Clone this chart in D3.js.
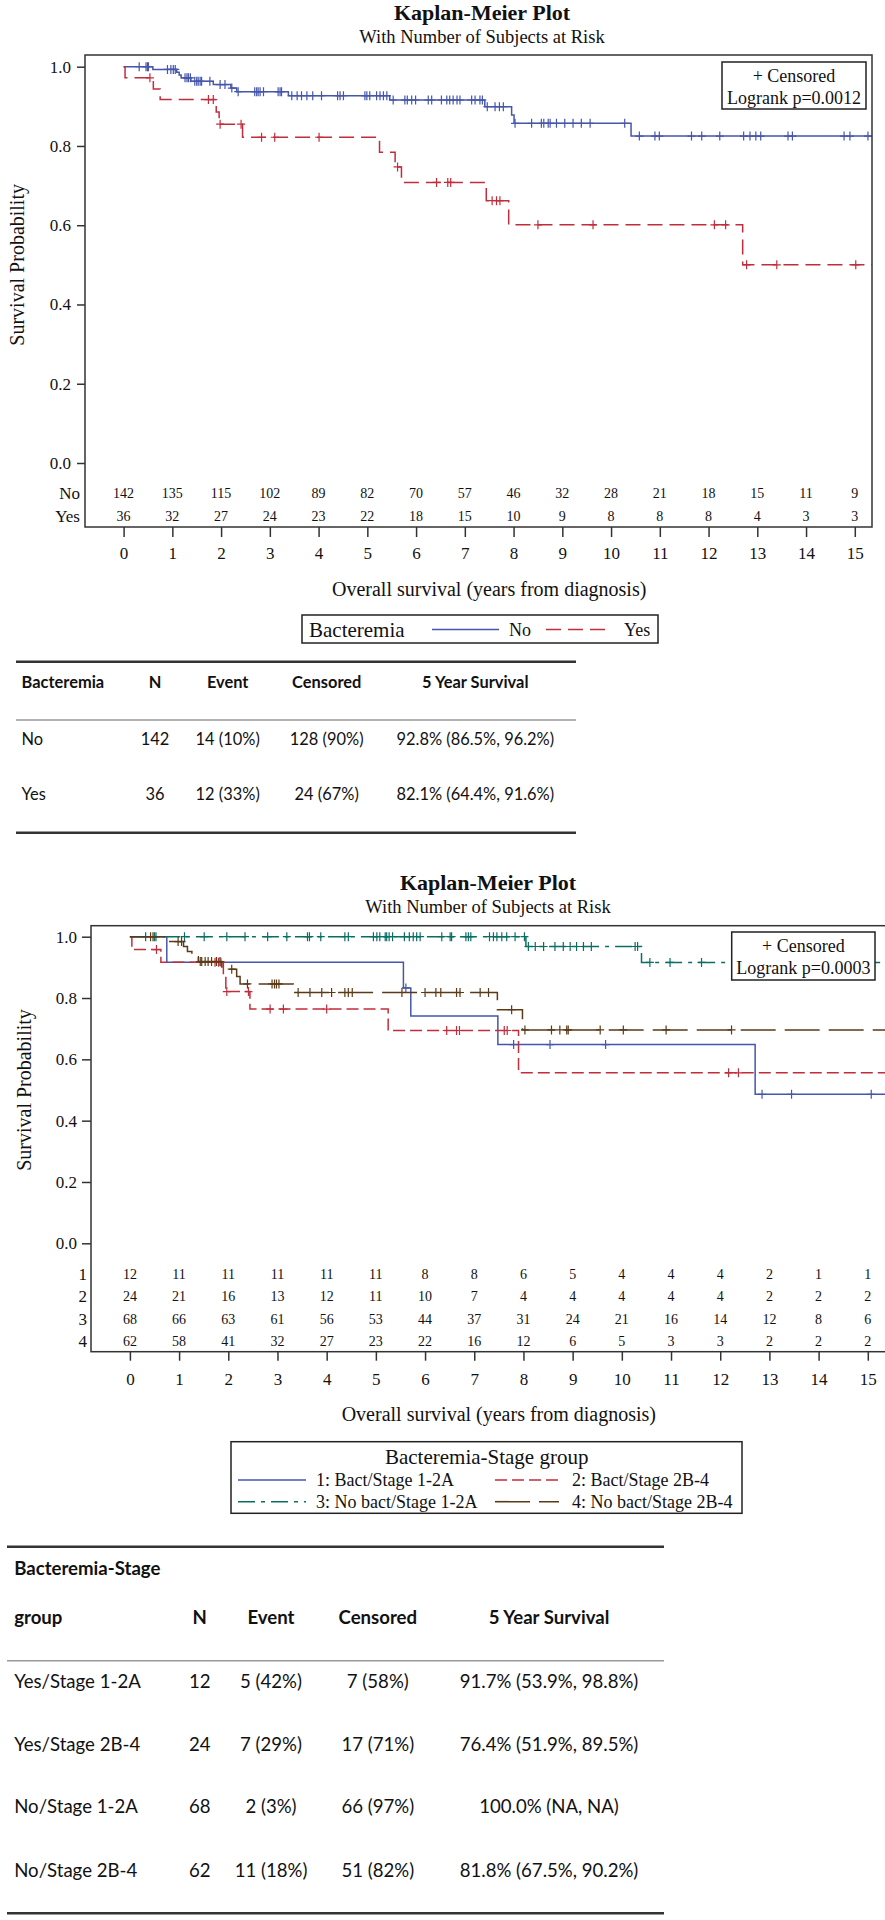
<!DOCTYPE html>
<html><head><meta charset="utf-8">
<script src="https://cdn.jsdelivr.net/npm/d3@7"></script>
<style>body{margin:0;background:#fff}svg{display:block}</style>
</head><body>
<svg id="c" width="885" height="1920"></svg>
<script>
// ---------------- DATA ----------------
const yearTicks = [0,1,2,3,4,5,6,7,8,9,10,11,12,13,14,15];
const survTicks = [0,0.2,0.4,0.6,0.8,1.0];
const followUpEnd = 15.4;

// Plot 1: Bacteremia No / Yes
const p1AtRiskNo  = [142,135,115,102,89,82,70,57,46,32,28,21,18,15,11,9];
const p1AtRiskYes = [36,32,27,24,23,22,18,15,10,9,8,8,8,4,3,3];
const p1NoEvents = [[0.60,0.993],[1.09,0.986],[1.14,0.979],[1.18,0.972],[1.38,0.963],[1.84,0.955],[2.20,0.946],[2.32,0.937],[3.38,0.927],[5.46,0.916],[7.41,0.899],[7.96,0.878],[8.01,0.857],[10.41,0.825]];
const p1NoCensored = [0.32,0.46,0.49,0.51,0.90,0.97,1.02,1.06,1.26,1.30,1.33,1.37,1.46,1.50,1.53,1.57,1.60,1.77,1.98,2.08,2.22,2.35,2.69,2.73,2.76,2.80,2.87,3.17,3.21,3.24,3.45,3.56,3.65,3.76,3.88,4.06,4.39,4.44,4.51,4.95,4.99,5.05,5.19,5.26,5.33,5.40,5.53,5.77,5.82,5.91,5.99,6.25,6.32,6.52,6.63,6.69,6.76,6.84,6.90,7.14,7.21,7.31,7.36,7.46,7.62,7.71,7.79,8.03,8.37,8.57,8.62,8.71,8.75,8.88,9.05,9.22,9.39,9.57,10.28,10.58,10.90,10.99,11.65,11.86,12.23,12.72,12.85,12.97,13.07,13.63,13.72,14.78,14.90,15.27];
const p1YesEvents = [[0.03,0.972],[0.61,0.944],[0.75,0.917],[1.90,0.886],[1.96,0.855],[2.44,0.822],[5.25,0.784],[5.57,0.747],[5.70,0.708],[7.44,0.662],[7.90,0.601],[12.70,0.500]];
const p1YesCensored = [0.54,1.74,1.84,1.98,2.41,2.83,3.10,4.01,5.62,6.42,6.65,6.71,7.56,7.65,7.72,8.50,9.63,12.12,12.35,12.78,13.40,15.02];

// Plot 2: Bacteremia-Stage groups
const p2AtRisk1 = [12,11,11,11,11,11,8,8,6,5,4,4,4,2,1,1];
const p2AtRisk2 = [24,21,16,13,12,11,10,7,4,4,4,4,4,2,2,2];
const p2AtRisk3 = [68,66,63,61,56,53,44,37,31,24,21,16,14,12,8,6];
const p2AtRisk4 = [62,58,41,32,27,23,22,16,12,6,5,3,3,2,2,2];
const p2G1Events = [[0.75,0.917],[5.56,0.833],[5.71,0.741],[7.48,0.648],[12.71,0.486]];
const p2G1Censored = [5.61,7.80,8.54,9.67,12.85,13.45,15.07];
const p2G2Events = [[0.04,0.958],[0.63,0.917],[1.90,0.867],[1.95,0.821],[2.44,0.764],[5.25,0.694],[7.90,0.556]];
const p2G2Censored = [0.54,1.73,1.80,1.85,1.97,2.41,2.85,3.12,4.00,6.44,6.64,6.70,7.61,7.67,12.17,12.37];
const p2G3Events = [[8.05,0.968],[10.40,0.916]];
const p2G3Censored = [0.32,0.50,0.53,1.11,1.51,1.97,2.34,2.80,3.19,3.61,3.65,3.88,4.37,4.44,4.95,5.02,5.08,5.19,5.22,5.27,5.34,5.58,5.68,5.76,5.83,5.90,6.34,6.51,6.54,6.83,6.88,6.93,7.31,7.39,7.46,7.56,7.66,7.83,8.02,8.10,8.24,8.41,8.64,8.81,8.95,9.08,9.22,9.38,10.27,10.32,10.57,10.98,11.62,12.3];
const p2G4Events = [[0.78,0.984],[1.09,0.968],[1.17,0.952],[1.26,0.935],[1.39,0.919],[1.87,0.894],[2.17,0.870],[2.24,0.846],[3.32,0.818],[7.47,0.762],[7.98,0.696]];
const p2G4Censored = [0.42,0.47,0.98,1.05,1.43,1.46,1.53,1.59,1.66,1.76,1.83,2.07,2.39,2.89,2.94,2.98,3.03,3.42,3.66,3.90,4.10,4.37,4.44,4.52,5.53,6.00,6.22,6.32,6.64,6.71,7.12,7.29,7.76,8.03,8.57,8.74,8.88,8.91,9.56,10.03,10.90,12.23];

// Tables
const tbl1Header = ["Bacteremia","N","Event","Censored","5 Year Survival"];
const tbl1Rows = [
  ["No","142","14 (10%)","128 (90%)","92.8% (86.5%, 96.2%)"],
  ["Yes","36","12 (33%)","24 (67%)","82.1% (64.4%, 91.6%)"]
];
const tbl2HeaderTop = "Bacteremia-Stage";
const tbl2Header = ["group","N","Event","Censored","5 Year Survival"];
const tbl2Rows = [
  ["Yes/Stage 1-2A","12","5 (42%)","7 (58%)","91.7% (53.9%, 98.8%)"],
  ["Yes/Stage 2B-4","24","7 (29%)","17 (71%)","76.4% (51.9%, 89.5%)"],
  ["No/Stage 1-2A","68","2 (3%)","66 (97%)","100.0% (NA, NA)"],
  ["No/Stage 2B-4","62","11 (18%)","51 (82%)","81.8% (67.5%, 90.2%)"]
];

// ---------------- STYLE ----------------
const SERIF = "'Liberation Serif','Times New Roman',Times,serif";
const SANS = "Lato,'Open Sans',sans-serif";
const C_BLUE = "#4556ac", C_RED = "#c22d3c", C_TEAL = "#0a6e63", C_BROWN = "#5a3a17";
const INK = "#111";
const svg = d3.select("#c");

function survAt(events,t){let s=1;for(const e of events){if(e[0]<=t)s=e[1];}return s;}
function txt(g,x,y,s,fs,opt={}){
  return g.append("text").attr("x",x).attr("y",y).attr("font-family",opt.ff||SERIF)
    .attr("font-size",fs).attr("font-weight",opt.fw||"normal").attr("fill",INK)
    .attr("text-anchor",opt.anchor||"start").text(s);
}

function drawKM(o){
  const g = svg.append("g");
  const x = d3.scaleLinear().domain([0,15]).range([o.x0,o.x15]);
  const y = d3.scaleLinear().domain([0,1]).range([o.y0,o.y1]);
  txt(g,o.titleX,o.titleY,"Kaplan-Meier Plot",22,{fw:"bold",anchor:"middle"});
  txt(g,o.titleX,o.subY,"With Number of Subjects at Risk",18.5,{anchor:"middle"});

  const cid = "clip"+o.id;
  svg.append("clipPath").attr("id",cid).append("rect")
    .attr("x",o.fl).attr("y",o.ft).attr("width",o.fr-o.fl).attr("height",o.fb-o.ft);
  const plot = g.append("g").attr("clip-path",`url(#${cid})`);
  const line = d3.line().x(d=>x(d[0])).y(d=>y(d[1])).curve(d3.curveStepAfter);
  o.groups.forEach(gr=>{
    const pts = [[0,1],...gr.events,[followUpEnd,gr.events[gr.events.length-1][1]]];
    plot.append("path").attr("d",line(pts)).attr("fill","none")
      .attr("stroke",gr.color).attr("stroke-width",1.5)
      .attr("stroke-dasharray",gr.dash||null);
    plot.append("g").selectAll("path").data(gr.censored).join("path")
      .attr("d",t=>{const cx=x(t),cy=y(survAt(gr.events,t));
        return `M${cx-4},${cy}H${cx+4}M${cx},${cy-4.5}V${cy+4.5}`;})
      .attr("stroke",gr.color).attr("stroke-width",1.2).attr("fill","none");
  });

  // inset legend
  g.append("rect").attr("x",o.lg[0]).attr("y",o.lg[1]).attr("width",o.lg[2]-o.lg[0]).attr("height",o.lg[3]-o.lg[1])
    .attr("fill","#fff").attr("stroke","#222").attr("stroke-width",1.5);
  const lcx=(o.lg[0]+o.lg[2])/2;
  txt(g,lcx,o.lg[1]+20,"+ Censored",18,{anchor:"middle"});
  txt(g,lcx,o.lg[1]+42,o.logrank,18,{anchor:"middle"});

  // frame
  g.append("rect").attr("x",o.fl).attr("y",o.ft).attr("width",o.fr-o.fl).attr("height",o.fb-o.ft)
    .attr("fill","none").attr("stroke","#333").attr("stroke-width",1.5);

  // y axis
  const ya = g.append("g").attr("transform",`translate(${o.fl},0)`)
    .call(d3.axisLeft(y).tickValues(survTicks).tickFormat(d3.format(".1f")).tickSize(o.yTick).tickPadding(o.yPad));
  ya.select(".domain").remove();
  ya.selectAll("line").attr("stroke","#333").attr("stroke-width",1.5);
  ya.selectAll("text").attr("font-family",SERIF).attr("font-size",17).attr("fill",INK);
  g.append("text").attr("transform",`translate(${o.ytX},${(o.y0+o.y1)/2}) rotate(-90)`)
    .attr("text-anchor","middle").attr("dy","0.33em").attr("font-family",SERIF).attr("font-size",20).attr("fill",INK)
    .text("Survival Probability");

  // x axis
  const xa = g.append("g").attr("transform",`translate(0,${o.fb})`)
    .call(d3.axisBottom(x).tickValues(yearTicks).tickFormat(d3.format("d")).tickSize(o.xTick).tickPadding(o.xPad));
  xa.select(".domain").remove();
  xa.selectAll("line").attr("stroke","#333").attr("stroke-width",1.5);
  xa.selectAll("text").attr("font-family",SERIF).attr("font-size",17).attr("fill",INK);
  txt(g,(o.x0+o.x15)/2,o.xtY,"Overall survival (years from diagnosis)",20,{anchor:"middle"});

  // at risk
  o.risk.forEach((r,i)=>{
    const ry=o.riskY[i];
    txt(g,o.riskLabelX,ry,r.label,17,{anchor:"end"}).attr("dy","0.34em");
    g.append("g").selectAll("text").data(r.values).join("text")
      .attr("x",(d,j)=>x(yearTicks[j])).attr("y",ry).attr("dy","0.34em")
      .attr("text-anchor","middle").attr("font-family",SERIF).attr("font-size",14).attr("fill",INK)
      .text(d=>d);
  });
  return g;
}

function legendSample(g,x1,x2,yy,color,dash){
  g.append("line").attr("x1",x1).attr("x2",x2).attr("y1",yy).attr("y2",yy)
    .attr("stroke",color).attr("stroke-width",1.6).attr("stroke-dasharray",dash||null);
}

// ---------- Plot 1 ----------
const g1 = drawKM({
  id:1, titleX:482, titleY:20, subY:43,
  fl:85, ft:55, fr:872, fb:527,
  x0:123.6, x15:854.8, y0:463, y1:66.7,
  yTick:8, yPad:6, xTick:10, xPad:10, ytX:17, xtY:596,
  lg:[722,62,866,109], logrank:"Logrank p=0.0012",
  riskLabelX:80, riskY:[493.3,516.7],
  risk:[{label:"No",values:p1AtRiskNo},{label:"Yes",values:p1AtRiskYes}],
  groups:[
    {events:p1NoEvents,censored:p1NoCensored,color:C_BLUE},
    {events:p1YesEvents,censored:p1YesCensored,color:C_RED,dash:"15,7"}
  ]
});
g1.append("rect").attr("x",302).attr("y",615).attr("width",356).attr("height",28)
  .attr("fill","none").attr("stroke","#222").attr("stroke-width",1.5);
txt(g1,309,636.5,"Bacteremia",21);
legendSample(g1,432,499,629.5,C_BLUE);
txt(g1,509,635.5,"No",18);
legendSample(g1,546,608,629.5,C_RED,"15,7");
txt(g1,624,635.5,"Yes",18);

// ---------- Plot 2 ----------
const g2 = drawKM({
  id:2, titleX:488, titleY:890, subY:913,
  fl:91, ft:925.7, fr:886.5, fb:1351.7,
  x0:129.9, x15:867.8, y0:1243.3, y1:936.7,
  yTick:9, yPad:5, xTick:9, xPad:12, ytX:24, xtY:1421,
  lg:[731.7,932,875,980], logrank:"Logrank p=0.0003",
  riskLabelX:87, riskY:[1274.3,1296.7,1319.3,1341.7],
  risk:[{label:"1",values:p2AtRisk1},{label:"2",values:p2AtRisk2},{label:"3",values:p2AtRisk3},{label:"4",values:p2AtRisk4}],
  groups:[
    {events:p2G1Events,censored:p2G1Censored,color:C_BLUE},
    {events:p2G2Events,censored:p2G2Censored,color:C_RED,dash:"12,5"},
    {events:p2G3Events,censored:p2G3Censored,color:C_TEAL,dash:"17,6,4,6"},
    {events:p2G4Events,censored:p2G4Censored,color:C_BROWN,dash:"35,9"}
  ]
});
g2.append("rect").attr("x",231).attr("y",1441.7).attr("width",511).attr("height",71.6)
  .attr("fill","none").attr("stroke","#222").attr("stroke-width",1.5);
txt(g2,486.7,1463.5,"Bacteremia-Stage group",21,{anchor:"middle"});
const lg2 = [
  {x1:238,x2:306,tx:316,y:1480,color:C_BLUE,dash:null,label:"1: Bact/Stage 1-2A"},
  {x1:495,x2:559,tx:572,y:1480,color:C_RED,dash:"12,5",label:"2: Bact/Stage 2B-4"},
  {x1:238,x2:306,tx:316,y:1501.7,color:C_TEAL,dash:"17,6,4,6",label:"3: No bact/Stage 1-2A"},
  {x1:495,x2:559,tx:572,y:1501.7,color:C_BROWN,dash:"35,9",label:"4: No bact/Stage 2B-4"}
];
lg2.forEach(d=>{legendSample(g2,d.x1,d.x2,d.y,d.color,d.dash);txt(g2,d.tx,d.y+6,d.label,18);});

// ---------- Tables ----------
function fitSize(sample,target,bold){
  const t = svg.append("text").attr("font-family",SANS).attr("font-size",100).attr("font-weight",bold?"bold":"normal").text(sample);
  const w = t.node().getComputedTextLength(); t.remove();
  return 100*target/w;
}
function hline(x1,x2,yy,w,c){svg.append("line").attr("x1",x1).attr("x2",x2).attr("y1",yy).attr("y2",yy).attr("stroke",c).attr("stroke-width",w);}
function cell(x,yc,s,fs,anchor,bold){
  svg.append("text").attr("x",x).attr("y",yc+0.36*fs).attr("font-family",SANS).attr("font-size",fs)
    .attr("font-weight",bold?"bold":"normal").attr("text-anchor",anchor).attr("fill",INK).text(s);
}
// table 1
const t1fs = fitSize("92.8% (86.5%, 96.2%)",157.7);
const t1cols = [[21.6,"start"],[155,"middle"],[227.7,"middle"],[326.7,"middle"],[475.3,"middle"]];
hline(16,576,661.7,2.6,"#333");
hline(16,576,720,1.4,"#999");
hline(16,576,832.7,2.6,"#333");
tbl1Header.forEach((h,i)=>cell(t1cols[i][0],682.2,h,t1fs,t1cols[i][1],true));
const t1y=[739.2,794.5];
tbl1Rows.forEach((r,ri)=>r.forEach((v,i)=>cell(t1cols[i][0],t1y[ri],v,t1fs,t1cols[i][1],false)));
// table 2
const t2fs = fitSize("91.7% (53.9%, 98.8%)",178.7);
const t2cols = [[14.2,"start"],[199.7,"middle"],[271,"middle"],[377.8,"middle"],[549,"middle"]];
hline(7,664,1546.7,2.6,"#333");
hline(7,664,1660.7,1.4,"#999");
hline(7,664,1913.3,2.6,"#333");
cell(14.2,1568.5,tbl2HeaderTop,t2fs,"start",true);
tbl2Header.forEach((h,i)=>cell(t2cols[i][0],1617.5,h,t2fs,t2cols[i][1],true));
const t2y=[1681.2,1744.5,1806.7,1870];
tbl2Rows.forEach((r,ri)=>r.forEach((v,i)=>cell(t2cols[i][0],t2y[ri],v,t2fs,t2cols[i][1],false)));
</script>
</body></html>
